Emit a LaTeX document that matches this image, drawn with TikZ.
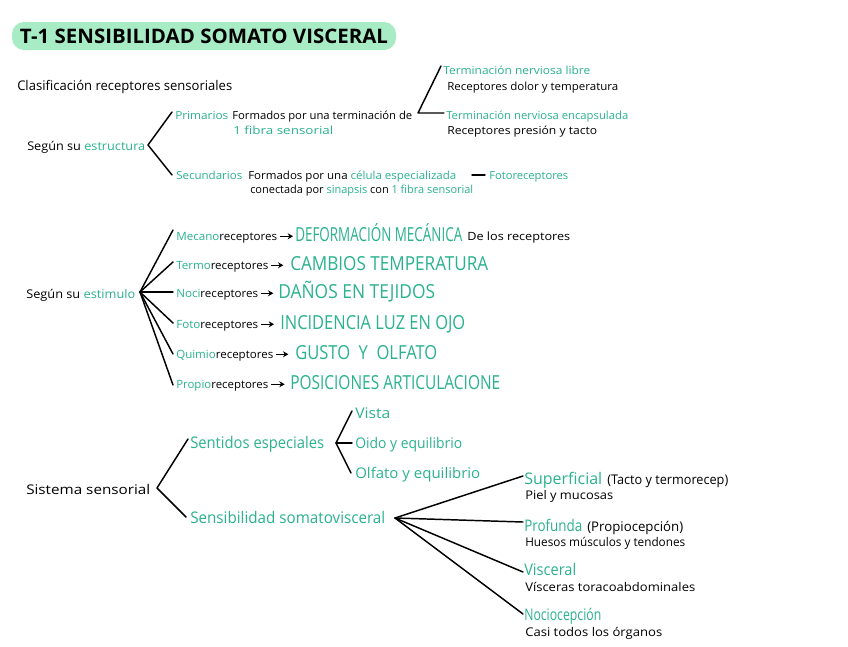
\documentclass[tikz,border=0pt]{standalone}
\usepackage{fontspec}
\setmainfont{Open Sans}
\usetikzlibrary{arrows.meta}
\definecolor{gr}{HTML}{2AB28F}
\definecolor{hl}{HTML}{A8ECC6}
\newlength\pxu \setlength\pxu{0.75pt}
\newcommand\fw[2]{\resizebox{#1\pxu}{\height}{#2}}
\newcommand\g[1]{\textcolor{gr}{#1}}
\begin{document}
\begin{tikzpicture}[x=0.75pt,y=-0.75pt,
 txt/.style={anchor=base west, inner sep=0pt, font=\fontsize{8.3}{9}\selectfont},
 gtxt/.style={txt, text=gr},
 big/.style={txt, text=gr, font=\fontsize{14.5}{16}\selectfont},
 fs9/.style={font=\fontsize{9}{10}\selectfont},
 fs10/.style={font=\fontsize{10}{11}\selectfont},
 fs11/.style={font=\fontsize{11}{12}\selectfont},
 fs12/.style={font=\fontsize{12}{13}\selectfont},
 fsr/.style={font=\fontsize{8.5}{9}\selectfont},
 ln/.style={line width=1.1pt, line cap=round, line join=round},
 arr/.style={line width=0.9pt, -{Stealth[length=4pt,width=4.5pt]}, shorten <=1.8pt},
 ]
\useasboundingbox (0,0) rectangle (848,646);
\fill[white] (0,0) rectangle (848,646);

% title
\node[fill=hl, rounded corners=9pt, minimum width=288pt, minimum height=21pt, inner sep=0pt,
  font=\bfseries\fontsize{15}{16}\selectfont] (title) at (204,36) {\fw{368}{T-1 SENSIBILIDAD SOMATO VISCERAL}};

\node[txt, fs10] (clas) at (17,90) {\fw{215}{Clasificación receptores sensoriales}};

% estructura
\node[txt, fs9] (estr) at (27,150) {\fw{118}{Según su \g{estructura}}};
\coordinate (estrA) at (148,145);
\coordinate (estrU) at (172,112);
\coordinate (estrL) at (172,175);
\draw[ln] (estrU) -- (estrA) -- (estrL);

\node[gtxt] (prim) at (175,119) {\fw{53}{Primarios}};
\node[txt] (primD) at (232,119) {\fw{180}{Formados por una terminación de}};
\node[gtxt] (primF) at (233,134) {\fw{100}{1 fibra sensorial}};

\coordinate (termA) at (418,113);
\coordinate (termU) at (441,66);
\coordinate (termL) at (444,113);
\draw[ln] (termU) -- (termA) -- (termL);

\node[gtxt] (tlib) at (443,74) {\fw{147}{Terminación nerviosa libre}};
\node[txt] (tlibD) at (447,90) {\fw{171}{Receptores dolor y temperatura}};
\node[gtxt] (tenc) at (446,119) {\fw{182}{Terminación nerviosa encapsulada}};
\node[txt] (tencD) at (447,134) {\fw{150}{Receptores presión y tacto}};

\node[gtxt] (sec) at (176,179) {\fw{66}{Secundarios}};
\node[txt] (secD) at (248,179) {\fw{208}{Formados por una \g{célula especializada}}};
\node[txt] (secD2) at (250,193) {\fw{223}{conectada por \g{sinapsis} con \g{1 fibra sensorial}}};
\node[gtxt] (foto1) at (489,179) {\fw{79}{Fotoreceptores}};
\coordinate (dashA) at (472,175);
\coordinate (dashB) at (485,175);
\draw[ln] (dashA) -- (dashB);

% estimulo
\node[txt, fs9] (estim) at (26,298) {\fw{109}{Según su \g{estimulo}}};
\coordinate (estA) at (140,292);
\coordinate (f1) at (173,230);
\coordinate (f2) at (173,262);
\coordinate (f3) at (173,292);
\coordinate (f4) at (173,323);
\coordinate (f5) at (173,354);
\coordinate (f6) at (173,385);
\foreach \k in {1,...,6} \draw[ln] (estA) -- (f\k);

\node[txt, fsr] (r1) at (176,240) {\fw{101}{\g{Mecano}receptores}};
\node[big] (c1) at (295,241) {\fw{167}{DEFORMACIÓN MECÁNICA}};
\node[txt, fsr] (d1) at (467,240) {\fw{103}{De los receptores}};
\node[txt, fsr] (r2) at (176,269) {\fw{92}{\g{Termo}receptores}};
\node[big] (c2) at (290,270) {\fw{198}{CAMBIOS TEMPERATURA}};
\node[txt, fsr] (r3) at (176,297) {\fw{82}{\g{Noci}receptores}};
\node[big] (c3) at (278,298) {\fw{157}{DAÑOS EN TEJIDOS}};
\node[txt, fsr] (r4) at (176,328) {\fw{82}{\g{Foto}receptores}};
\node[big] (c4) at (280,329) {\fw{185}{INCIDENCIA LUZ EN OJO}};
\node[txt, fsr] (r5) at (176,358) {\fw{97}{\g{Quimio}receptores}};
\node[big] (c5) at (295,359) {\fw{142}{GUSTO\ \ Y\ \ OLFATO}};
\node[txt, fsr] (r6) at (176,388) {\fw{92}{\g{Propio}receptores}};
\node[big] (c6) at (290,389) {\fw{210}{POSICIONES ARTICULACIONE}};

\draw[arr, shorten >=1.5pt] ([yshift=2.8pt]r1.base east) -- ([yshift=2.8pt]r1.base east -| c1.west);
\draw[arr, shorten >=5pt] ([yshift=2.8pt]r2.base east) -- ([yshift=2.8pt]r2.base east -| c2.west);
\draw[arr, shorten >=3.5pt] ([yshift=2.8pt]r3.base east) -- ([yshift=2.8pt]r3.base east -| c3.west);
\draw[arr, shorten >=4.5pt] ([yshift=2.8pt]r4.base east) -- ([yshift=2.8pt]r4.base east -| c4.west);
\draw[arr, shorten >=5pt] ([yshift=2.8pt]r5.base east) -- ([yshift=2.8pt]r5.base east -| c5.west);
\draw[arr, shorten >=4pt] ([yshift=2.8pt]r6.base east) -- ([yshift=2.8pt]r6.base east -| c6.west);

% sistema sensorial
\node[txt, fs10] (sis) at (26,494) {\fw{124}{Sistema sensorial}};
\coordinate (sisA) at (157,488);
\coordinate (sisU) at (188,439);
\coordinate (sisL) at (186,517);
\draw[ln] (sisU) -- (sisA) -- (sisL);

\node[gtxt, fs12] (sent) at (190,448) {\fw{134}{Sentidos especiales}};
\node[gtxt, fs12] (sens) at (190,523) {\fw{195}{Sensibilidad somatovisceral}};

\coordinate (sentA) at (336,443);
\coordinate (sentU) at (352,411);
\coordinate (sentM) at (352,443);
\coordinate (sentL) at (351,473);
\draw[ln] (sentU) -- (sentA) -- (sentL);
\draw[ln] (sentA) -- (sentM);

\node[gtxt, fs11] (vista) at (355,418) {\fw{35}{Vista}};
\node[gtxt, fs11] (oido) at (355,448) {\fw{107}{Oido y equilibrio}};
\node[gtxt, fs11] (olf) at (355,478) {\fw{125}{Olfato y equilibrio}};

\coordinate (somA) at (395,518);
\coordinate (s1) at (523,476);
\coordinate (s2) at (523,522);
\coordinate (s3) at (523,572);
\coordinate (s4) at (523,614);
\foreach \k in {1,...,4} \draw[ln] (somA) -- (s\k);

\node[gtxt, fs12] (sup) at (524,484) {\fw{78}{Superficial}};
\node[txt, fs10] (supD) at (607,484) {\fw{121}{(Tacto y termorecep)}};
\node[txt, fs9] (supE) at (525,499) {\fw{88}{Piel y mucosas}};
\node[gtxt, fs12] (prof) at (524,531) {\fw{58}{Profunda}};
\node[txt, fs10] (profD) at (587,531) {\fw{96}{(Propiocepción)}};
\node[txt, fs9] (profE) at (525,546) {\fw{160}{Huesos músculos y tendones}};
\node[gtxt, fs12] (visc) at (524,575) {\fw{52}{Visceral}};
\node[txt, fs9] (viscE) at (525,591) {\fw{170}{Vísceras toracoabdominales}};
\node[gtxt, fs12] (noci) at (524,620) {\fw{77}{Nociocepción}};
\node[txt, fs9] (nociE) at (525,636) {\fw{137}{Casi todos los órganos}};
\end{tikzpicture}
\end{document}
